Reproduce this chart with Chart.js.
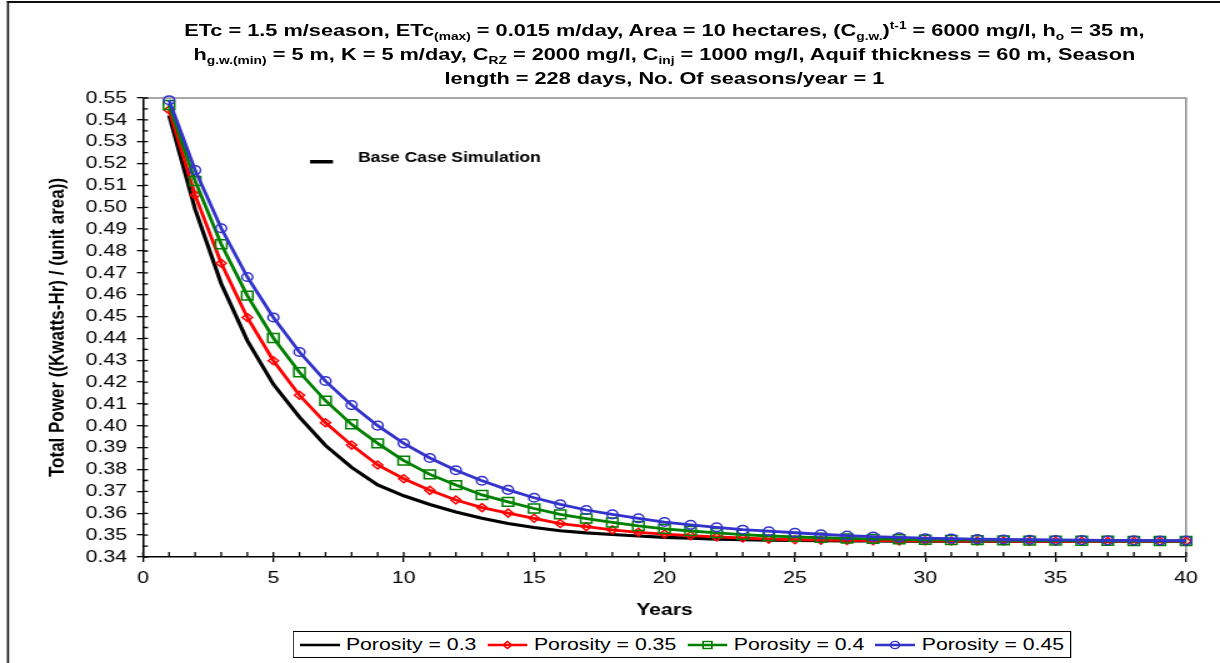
<!DOCTYPE html>
<html>
<head>
<meta charset="utf-8">
<script src="https://cdn.jsdelivr.net/npm/chart.js@4.4.1/dist/chart.umd.min.js"></script>
<style>
  html, body { margin:0; padding:0; background:#fff; overflow:hidden; }
  #wrap { position:relative; width:976px; height:663px; transform:scaleX(1.25); transform-origin:0 0; font-family:'Liberation Sans', Arial, sans-serif; }
  #box { position:absolute; left:0; top:0; width:976px; height:663px; }
  #title { position:absolute; left:104px; top:18px; width:855px; text-align:center; font-weight:bold; font-size:17.4px; line-height:24px; }
  #title sub, #title sup { font-size:11px; line-height:0; }
  #title sub { vertical-align:-4px; }
  #title sup { vertical-align:7px; }
  #legend { position:absolute; left:234px; top:631px; width:621px; height:25px; border:1px solid #000; display:flex; align-items:center; justify-content:center; font-size:17px; background:#fff; }
  .item { display:flex; align-items:center; margin:0 4.5px; }
  .item svg { margin-right:5px; }
</style>
</head>
<body>
<div id="wrap">
  <div id="box"><canvas id="powerChart"></canvas></div>
  <div id="title">ETc = 1.5 m/season, ETc<sub>(max)</sub> = 0.015 m/day, Area = 10 hectares, (C<sub>g.w.</sub>)<sup>t-1</sup> = 6000 mg/l, h<sub>o</sub> = 35 m,<br>h<sub>g.w.(min)</sub> = 5 m, K = 5 m/day, C<sub>RZ</sub> = 2000 mg/l, C<sub>inj</sub> = 1000 mg/l, Aquif thickness = 60 m, Season<br>length = 228 days, No. Of seasons/year = 1</div>
  <div id="legend"></div>
</div>
<script>
// years (x) and total power per unit area for each porosity
const years = [1,2,3,4,5,6,7,8,9,10,11,12,13,14,15,16,17,18,19,20,21,22,23,24,25,26,27,28,29,30,31,32,33,34,35,36,37,38,39,40];

const porosity030 = [0.542,0.499,0.465,0.439,0.419,0.404,0.391,0.381,0.373,0.368,0.364,0.3606,0.3577,0.3553,0.3535,0.352,0.351,0.3503,0.3496,0.349,
  0.3486,0.3482,0.3479,0.3477,0.3476,0.3475,0.3474,0.3474,0.3473,0.3473,0.3473,0.3472,0.3472,0.3472,0.3472,0.3472,0.3472,0.3472,0.3472,0.3472];
const porosity035 = [0.5445,0.5056,0.4744,0.4496,0.4298,0.414,0.4014,0.3912,0.3821,0.3758,0.3705,0.3661,0.3626,0.3601,0.3577,0.3553,0.3539,0.3524,0.3513,0.3505,
  0.3498,0.3492,0.3487,0.3482,0.3479,0.3477,0.3476,0.3475,0.3474,0.3474,0.3473,0.3473,0.3473,0.3472,0.3472,0.3472,0.3472,0.3472,0.3472,0.3472];
const porosity040 = [0.5468,0.512,0.4831,0.4596,0.4402,0.4245,0.4115,0.4007,0.392,0.3841,0.3778,0.3729,0.3684,0.3652,0.3622,0.3595,0.3576,0.3558,0.3542,0.3529,
  0.3519,0.351,0.3502,0.3496,0.3492,0.3488,0.3485,0.3483,0.3481,0.3479,0.3478,0.3477,0.3476,0.3475,0.3475,0.3474,0.3474,0.3473,0.3473,0.3473];
const porosity045 = [0.549,0.517,0.4904,0.4681,0.4496,0.4338,0.4205,0.4095,0.4001,0.392,0.3853,0.3797,0.3749,0.3707,0.3671,0.3641,0.3615,0.3595,0.3577,0.356,
  0.3547,0.3536,0.3525,0.3518,0.3511,0.3504,0.3498,0.3493,0.349,0.3486,0.3484,0.3482,0.348,0.3479,0.3478,0.3477,0.3476,0.3476,0.3475,0.3475];

const seriesNames = ['Porosity = 0.3', 'Porosity = 0.35', 'Porosity = 0.4', 'Porosity = 0.45'];
const seriesValues = [porosity030, porosity035, porosity040, porosity045];

const colors = ['#000000', '#ff0000', '#008000', '#3333cc'];
const markers = ['circle', 'rectRot', 'rect', 'circle'];
const markerRadius = [0, 4, 6.3, 4.3];
const lineWidths = [3.2, 2.8, 2.8, 2.8];

Chart.defaults.font.family = "'Liberation Sans', Arial, sans-serif";
Chart.defaults.color = '#000';

const datasets = seriesValues.map((vals, i) => ({
  label: seriesNames[i],
  data: years.map((yr, j) => ({x: yr, y: vals[j]})),
  borderColor: colors[i],
  borderWidth: lineWidths[i],
  pointStyle: markers[i],
  pointRadius: markerRadius[i],
  pointBorderColor: colors[i],
  pointBackgroundColor: 'transparent',
  pointBorderWidth: 1.5,
  tension: 0,
  clip: false,
  order: 3 - i
}));

const frame = {
  id: 'frame',
  beforeDraw(chart) {
    const ctx = chart.ctx;
    ctx.save();
    ctx.fillStyle = '#fff';
    ctx.fillRect(0, 0, chart.width, chart.height);
    ctx.fillStyle = '#111';
    ctx.fillRect(5.6, 1, 1.6, chart.height);
    ctx.fillRect(5.6, 1, chart.width, 2);
    ctx.restore();
  },
  beforeDatasetsDraw(chart) {
    const {ctx, chartArea: a, scales} = chart;
    ctx.save();
    ctx.strokeStyle = '#8c8c8c';
    ctx.lineWidth = 1.5;
    ctx.beginPath();
    ctx.moveTo(a.left, a.top);
    ctx.lineTo(a.right, a.top);
    ctx.lineTo(a.right, a.bottom);
    ctx.stroke();
    // inner ticks, major and minor
    ctx.strokeStyle = '#000';
    ctx.lineWidth = 1.3;
    ctx.beginPath();
    for (let i = 0; i <= 42; i++) {
      const py = scales.y.getPixelForValue(0.34 + i * 0.005);
      ctx.moveTo(a.left, py);
      ctx.lineTo(a.left + 4, py);
    }
    for (let i = 0; i <= 40; i++) {
      const px = scales.x.getPixelForValue(i);
      ctx.moveTo(px, a.bottom);
      ctx.lineTo(px, a.bottom - 5);
    }
    ctx.stroke();
    // base case note
    ctx.fillStyle = '#000';
    ctx.fillRect(248, 160, 18.4, 3.5);
    ctx.font = "bold 14px 'Liberation Sans', Arial, sans-serif";
    ctx.textBaseline = 'middle';
    ctx.fillText('Base Case Simulation', 286.4, 158);
    ctx.restore();
  }
};

new Chart('powerChart', {
  type: 'line',
  data: { datasets: datasets },
  plugins: [frame],
  options: {
    responsive: true,
    maintainAspectRatio: false,
    animation: false,
    layout: { padding: { left: 32, right: 27.2, top: 98, bottom: 36 } },
    plugins: { legend: { display: false }, tooltip: { enabled: false } },
    scales: {
      x: {
        type: 'linear', min: 0, max: 40,
        afterFit(s) { s.height = 70; },
        ticks: { stepSize: 5, font: { size: 17 }, padding: 6, maxRotation: 0, autoSkip: false },
        grid: { drawOnChartArea: false, tickLength: 5, color: '#000', lineWidth: 1.3 },
        border: { color: '#000', width: 1.5 },
        title: { display: true, text: 'Years', font: { size: 17, weight: 'bold' }, padding: { top: 0, bottom: 6.8 } }
      },
      y: {
        min: 0.34, max: 0.55,
        afterFit(s) { s.width = 82.4; },
        ticks: { stepSize: 0.01, font: { size: 17 }, padding: 8, autoSkip: false, callback: v => v.toFixed(2) },
        grid: { drawOnChartArea: false, tickLength: 4.8, color: '#000', lineWidth: 1.3 },
        border: { color: '#000', width: 1.5 },
        title: { display: true, text: 'Total Power ((Kwatts-Hr) / (unit area))', font: { size: 17, weight: 'bold' }, padding: { top: 4, bottom: 0 } }
      }
    }
  }
});

// legend with line + marker samples
function sample(i) {
  const c = colors[i];
  let m = '';
  if (markers[i] === 'rectRot' && markerRadius[i]) m = `<polygon points="16,2.5 19.5,6 16,9.5 12.5,6" fill="none" stroke="${c}" stroke-width="1.4"/>`;
  if (markers[i] === 'rect' && markerRadius[i]) m = `<rect x="12.5" y="2.5" width="7" height="7" fill="none" stroke="${c}" stroke-width="1.4"/>`;
  if (markers[i] === 'circle' && markerRadius[i]) m = `<circle cx="16" cy="6" r="3.6" fill="none" stroke="${c}" stroke-width="1.4"/>`;
  return `<svg width="32" height="12"><line x1="0" y1="6" x2="32" y2="6" stroke="${c}" stroke-width="2.6"/>${m}</svg>`;
}
const legendEl = document.getElementById('legend');
seriesNames.forEach((name, i) => {
  const item = document.createElement('span');
  item.className = 'item';
  item.innerHTML = sample(i) + '<span>' + name + '</span>';
  legendEl.appendChild(item);
});
</script>
</body>
</html>
